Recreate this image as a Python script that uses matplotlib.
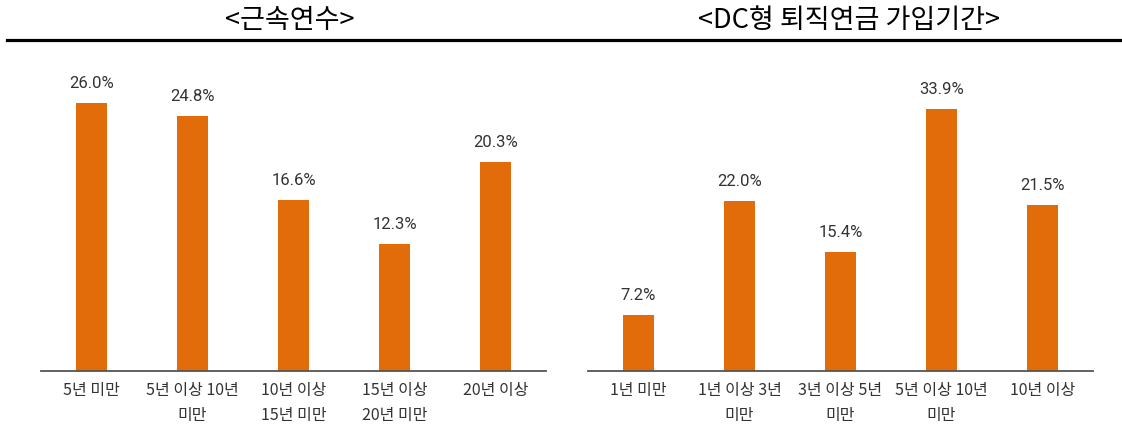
import matplotlib
matplotlib.use("Agg")
import matplotlib.pyplot as plt
from matplotlib.lines import Line2D

plt.rcParams['font.family'] = ['Noto Sans CJK KR', 'DejaVu Sans']

# data
tenure_labels = ['5년 미만', '5년 이상 10년\n미만', '10년 이상\n15년 미만', '15년 이상\n20년 미만', '20년 이상']
tenure_values = [26.0, 24.8, 16.6, 12.3, 20.3]
dc_labels = ['1년 미만', '1년 이상 3년\n미만', '3년 이상 5년\n미만', '5년 이상 10년\n미만', '10년 이상']
dc_values = [7.2, 22.0, 15.4, 33.9, 21.5]
titles = ['<근속연수>', '<DC형 퇴직연금 가입기간>']

W, H = 1122, 438
bar_color = '#E36C0A'
text_color = '#333333'

fig = plt.figure(figsize=(W / 100, H / 100), dpi=100)

def px_axes(x0, x1, y_bottom, y_top):
    return fig.add_axes([x0 / W, 1 - y_bottom / H, (x1 - x0) / W, (y_bottom - y_top) / H])

ax1 = px_axes(41, 546, 371, 60)
ax2 = px_axes(588, 1093, 371, 60)

for ax, labels, values, ymax in [(ax1, tenure_labels, tenure_values, 30.2),
                                 (ax2, dc_labels, dc_values, 40.3)]:
    x = range(len(values))
    bars = ax.bar(x, values, width=0.31, color=bar_color)
    ax.set_xlim(-0.5, len(values) - 0.5)
    ax.set_ylim(0, ymax)
    for b, v in zip(bars, values):
        ax.annotate('{:.1f}%'.format(v), (b.get_x() + b.get_width() / 2, v),
                    xytext=(0, 14), textcoords='offset points',
                    ha='center', va='center', fontsize=12, color=text_color,
                    family=['Roboto', 'DejaVu Sans'])
    ax.set_xticks(list(x))
    ax.set_xticklabels(labels, fontsize=11.5, color=text_color, linespacing=1.6)
    ax.tick_params(axis='x', length=0, pad=8)
    ax.set_yticks([])
    for s in ['left', 'right', 'top']:
        ax.spines[s].set_visible(False)
    ax.spines['bottom'].set_color('#555555')
    ax.spines['bottom'].set_linewidth(1.3)

# titles and rule line
fig.text(290 / W, 1 - 20 / H, titles[0], ha='center', va='center', fontsize=19.5)
fig.text(849 / W, 1 - 20 / H, titles[1], ha='center', va='center', fontsize=19.5)
fig.add_artist(Line2D([7 / W, 1.0], [1 - 40 / H, 1 - 40 / H], transform=fig.transFigure,
                      color='black', linewidth=2.3))

fig.savefig('out.png', dpi=100)
